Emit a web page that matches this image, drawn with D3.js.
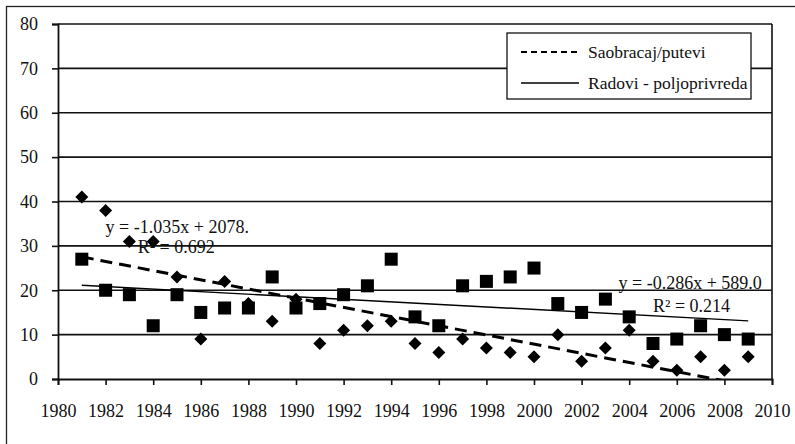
<!DOCTYPE html>
<html>
<head>
<meta charset="utf-8">
<script src="https://cdn.jsdelivr.net/npm/d3@7"></script>
<style>
  html, body { margin: 0; padding: 0; background: #fff; }
  svg { display: block; }
  svg text { font-family: "Liberation Serif", "Times New Roman", "DejaVu Serif", serif; }
</style>
</head>
<body>
<div id="chart"></div>
<script>
// data
const years = [1981, 1982, 1983, 1984, 1985, 1986, 1987, 1988, 1989, 1990,
  1991, 1992, 1993, 1994, 1995, 1996, 1997, 1998, 1999, 2000,
  2001, 2002, 2003, 2004, 2005, 2006, 2007, 2008, 2009];
const saobracaj = [41, 38, 31, 31, 23, 9, 22, 17, 13, 18,
  8, 11, 12, 13, 8, 6, 9, 7, 6, 5,
  10, 4, 7, 11, 4, 2, 5, 2, 5];
const radovi = [27, 20, 19, 12, 19, 15, 16, 16, 23, 16,
  17, 19, 21, 27, 14, 12, 21, 22, 23, 25,
  17, 15, 18, 14, 8, 9, 12, 10, 9];
const seriesNames = ["Saobracaj/putevi", "Radovi - poljoprivreda"];
const yTicks = [0, 10, 20, 30, 40, 50, 60, 70, 80];
const xTicks = d3.range(1980, 2011, 2);
const trendText1 = ["y = -1.035x + 2078.", "R\u00b2 = 0.692"];
const trendText2 = ["y = -0.286x + 589.0", "R\u00b2 = 0.214"];

const width = 795, height = 444;
const margin = { top: 24, right: 23, bottom: 65, left: 58 };

const svg = d3.select("#chart").append("svg")
  .attr("width", width)
  .attr("height", height)
  .attr("font-size", 18);

// outer frame (runs off the picture at right and bottom)
svg.append("rect")
  .attr("x", 6.5).attr("y", 6.5)
  .attr("width", 820).attr("height", 460)
  .attr("fill", "none").attr("stroke", "#222").attr("stroke-width", 1.3);

const x = d3.scaleLinear().domain([1980, 2010]).range([margin.left, width - margin.right]);
const y = d3.scaleLinear().domain([0, 80]).range([height - margin.bottom, margin.top]);

// gridlines
svg.append("g")
  .selectAll("line")
  .data(yTicks.slice(1))
  .join("line")
  .attr("x1", x(1980)).attr("x2", x(2010))
  .attr("y1", d => y(d)).attr("y2", d => y(d))
  .attr("stroke", "#111").attr("stroke-width", 1.6);

// right border of plot
svg.append("line")
  .attr("x1", x(2010)).attr("x2", x(2010))
  .attr("y1", y(80)).attr("y2", y(0))
  .attr("stroke", "#111").attr("stroke-width", 1.6);

// axes
const yAxis = svg.append("g")
  .attr("transform", `translate(${x(1980)},0)`)
  .call(d3.axisLeft(y).tickValues(yTicks).tickSize(6).tickPadding(14));
const xAxis = svg.append("g")
  .attr("transform", `translate(0,${y(0)})`)
  .call(d3.axisBottom(x).tickValues(xTicks).tickFormat(d3.format("d")).tickSize(6).tickPadding(19));

[yAxis, xAxis].forEach(a => {
  a.attr("font-family", null).attr("font-size", 18);
  a.select(".domain").attr("stroke", "#111").attr("stroke-width", 1.8);
  a.selectAll(".tick line").attr("stroke", "#111").attr("stroke-width", 1.6);
  a.selectAll("text").attr("fill", "#111");
});

// points
const pts1 = years.map((yr, i) => ({ x: yr, y: saobracaj[i] }));
const pts2 = years.map((yr, i) => ({ x: yr, y: radovi[i] }));

const diamond = "M0,-6.5L6.5,0L0,6.5L-6.5,0Z";
svg.append("g")
  .selectAll("path")
  .data(pts1)
  .join("path")
  .attr("d", diamond)
  .attr("transform", d => `translate(${x(d.x)},${y(d.y)})`)
  .attr("fill", "#000");

svg.append("g")
  .selectAll("rect")
  .data(pts2)
  .join("rect")
  .attr("x", d => x(d.x) - 6.5)
  .attr("y", d => y(d.y) - 6.5)
  .attr("width", 13).attr("height", 13)
  .attr("fill", "#000");

// linear trendlines (least squares)
function fit(pts) {
  const mx = d3.mean(pts, d => d.x), my = d3.mean(pts, d => d.y);
  const sxy = d3.sum(pts, d => (d.x - mx) * (d.y - my));
  const sxx = d3.sum(pts, d => (d.x - mx) ** 2);
  const b = sxy / sxx;
  return xv => my + b * (xv - mx);
}
const f1 = fit(pts1), f2 = fit(pts2);
const x0 = d3.min(years), x1 = d3.max(years);

svg.append("clipPath").attr("id", "plotclip")
  .append("rect")
  .attr("x", x(1980)).attr("y", y(80))
  .attr("width", x(2010) - x(1980)).attr("height", y(0) - y(80));

const line = d3.line().x(d => x(d[0])).y(d => y(d[1]));
svg.append("path")
  .attr("d", line([[x0, f1(x0)], [x1, f1(x1)]]))
  .attr("clip-path", "url(#plotclip)")
  .attr("fill", "none").attr("stroke", "#000")
  .attr("stroke-width", 3).attr("stroke-dasharray", "12,7");
svg.append("path")
  .attr("d", line([[x0, f2(x0)], [x1, f2(x1)]]))
  .attr("fill", "none").attr("stroke", "#000").attr("stroke-width", 1.4);

// trendline labels
svg.append("text").attr("x", x(1982)).attr("y", y(33)).attr("fill", "#111").text(trendText1[0]);
svg.append("text").attr("x", x(1983.35)).attr("y", y(28.5)).attr("fill", "#111").text(trendText1[1]);
svg.append("text").attr("x", x(2003.55)).attr("y", y(20.2)).attr("fill", "#111").text(trendText2[0]);
svg.append("text").attr("x", x(2005)).attr("y", y(15.2)).attr("fill", "#111").text(trendText2[1]);

// legend
const legend = svg.append("g").attr("transform", "translate(507,33)");
legend.append("rect")
  .attr("width", 244).attr("height", 66)
  .attr("fill", "#fff").attr("stroke", "#111").attr("stroke-width", 1.3);
const items = legend.selectAll("g.item")
  .data(seriesNames)
  .join("g")
  .attr("class", "item")
  .attr("transform", (d, i) => `translate(0,${19 + i * 31})`);
items.append("line")
  .attr("x1", 14).attr("x2", 72)
  .attr("stroke", "#000")
  .attr("stroke-width", (d, i) => i === 0 ? 2 : 1.4)
  .attr("stroke-dasharray", (d, i) => i === 0 ? "6,4" : null);
items.append("text")
  .attr("x", 81).attr("dy", "0.33em")
  .attr("font-size", 17.5)
  .attr("fill", "#111")
  .text(d => d);
</script>
</body>
</html>
